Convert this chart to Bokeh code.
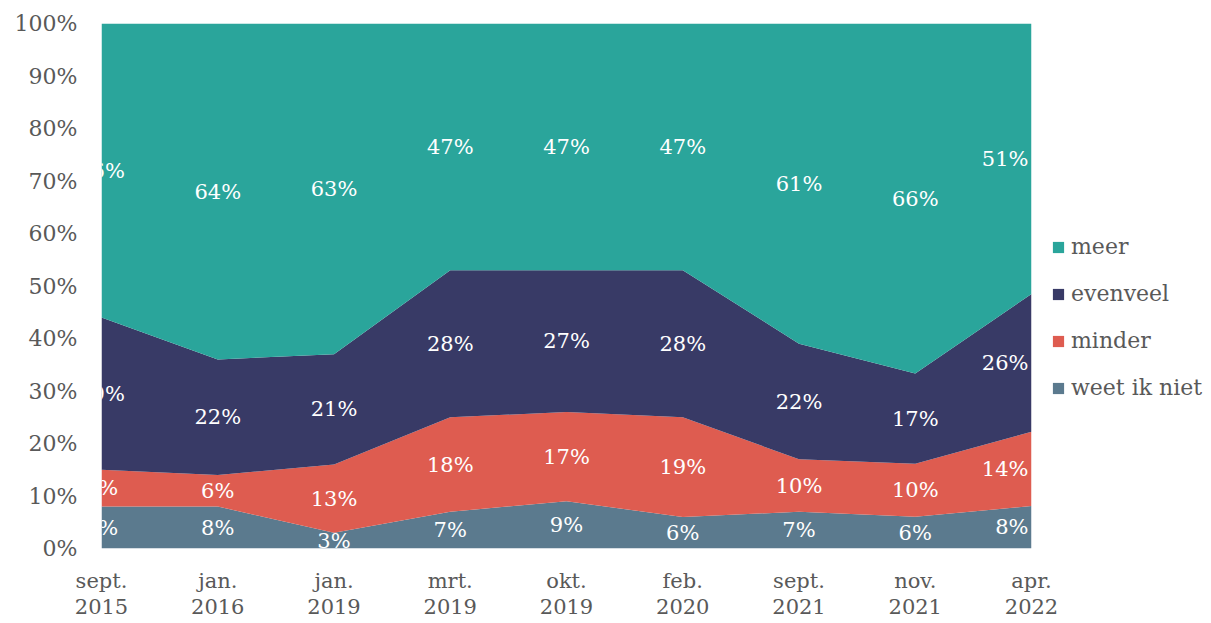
from bokeh.plotting import figure
from bokeh.models import ColumnDataSource, FixedTicker, Legend, LegendItem, Range1d
from bokeh.core.properties import value
from bokeh.embed import file_html
from bokeh.resources import INLINE

categories = ["sept.\n2015", "jan.\n2016", "jan.\n2019", "mrt.\n2019", "okt.\n2019",
              "feb.\n2020", "sept.\n2021", "nov.\n2021", "apr.\n2022"]
weet_ik_niet = [8, 8, 3, 7, 9, 6, 7, 6, 8]
minder = [7, 6, 13, 18, 17, 19, 10, 10, 14]
evenveel = [29, 22, 21, 28, 27, 28, 22, 17, 26]
meer = [56, 64, 63, 47, 47, 47, 61, 66, 51]

series_names = ["weet ik niet", "minder", "evenveel", "meer"]
series_vals = [weet_ik_niet, minder, evenveel, meer]
colors = ["#5B7A8E", "#DE5C50", "#383A66", "#2AA59B"]

FONT = "DejaVu Serif"
n = len(categories)
xs = list(range(n))
totals = [sum(s[i] for s in series_vals) for i in range(n)]
data = {"x": xs}
keys = ["s0", "s1", "s2", "s3"]
for k, vals in zip(keys, series_vals):
    data[k] = [v / t for v, t in zip(vals, totals)]
source = ColumnDataSource(data)

p = figure(width=1211, height=623, frame_width=930, frame_height=525,
           output_backend="svg", toolbar_location=None,
           x_range=Range1d(0, n - 1), y_range=Range1d(0, 1),
           min_border_left=101, min_border_top=23, min_border_bottom=75, min_border_right=180)
p.outline_line_color = None
p.background_fill_color = "white"
p.grid.visible = False

renderers = p.varea_stack(stackers=keys, x="x", color=colors, source=source)

# data labels
lx, ly, lt, la, lo = [], [], [], [], []
for i in range(n):
    cum = 0.0
    for k, vals in zip(keys, series_vals):
        frac = data[k][i]
        lx.append(i)
        ly.append(cum + frac / 2)
        lt.append(f"{vals[i]}%")
        last = (i == n - 1)
        la.append("right" if last else "center")
        lo.append(-3 if last else 0)
        cum += frac
lsrc = ColumnDataSource(dict(x=lx, y=ly, t=lt, a=la, o=lo))
p.text(x="x", y="y", text="t", source=lsrc, text_color="white",
       text_font=value(FONT), text_font_size="21px",
       text_align="a", x_offset="o", text_baseline="middle")

# axes
p.yaxis.ticker = FixedTicker(ticks=[i / 10 for i in range(11)])
p.yaxis.major_label_overrides = {i / 10: f"{i * 10}%" for i in range(11)}
p.xaxis.ticker = FixedTicker(ticks=xs)
p.xaxis.major_label_overrides = {i: c for i, c in enumerate(categories)}
for ax in (p.xaxis, p.yaxis):
    ax.axis_line_color = None
    ax.major_tick_line_color = None
    ax.minor_tick_line_color = None
    ax.major_tick_out = 0
    ax.major_tick_in = 0
    ax.major_label_text_font = FONT
    ax.major_label_text_font_size = "22px"
    ax.major_label_text_color = "#595959"
p.yaxis.major_label_standoff = 24
p.xaxis.major_label_standoff = 20
p.xaxis.major_label_text_font_size = "21px"
p.xaxis.major_label_text_line_height = 1.1

items = [LegendItem(label=name, renderers=[r])
         for name, r in zip(series_names[::-1], renderers[::-1])]
legend = Legend(items=items, location=(20, 148), orientation="vertical",
                glyph_width=14, glyph_height=14, label_height=24,
                spacing=22, padding=0, margin=0, label_standoff=6,
                label_text_font=FONT, label_text_font_size="22px",
                label_text_color="#595959", border_line_color=None,
                background_fill_alpha=0)
p.add_layout(legend, "right")

open("out.html", "w").write(file_html(p, INLINE))
